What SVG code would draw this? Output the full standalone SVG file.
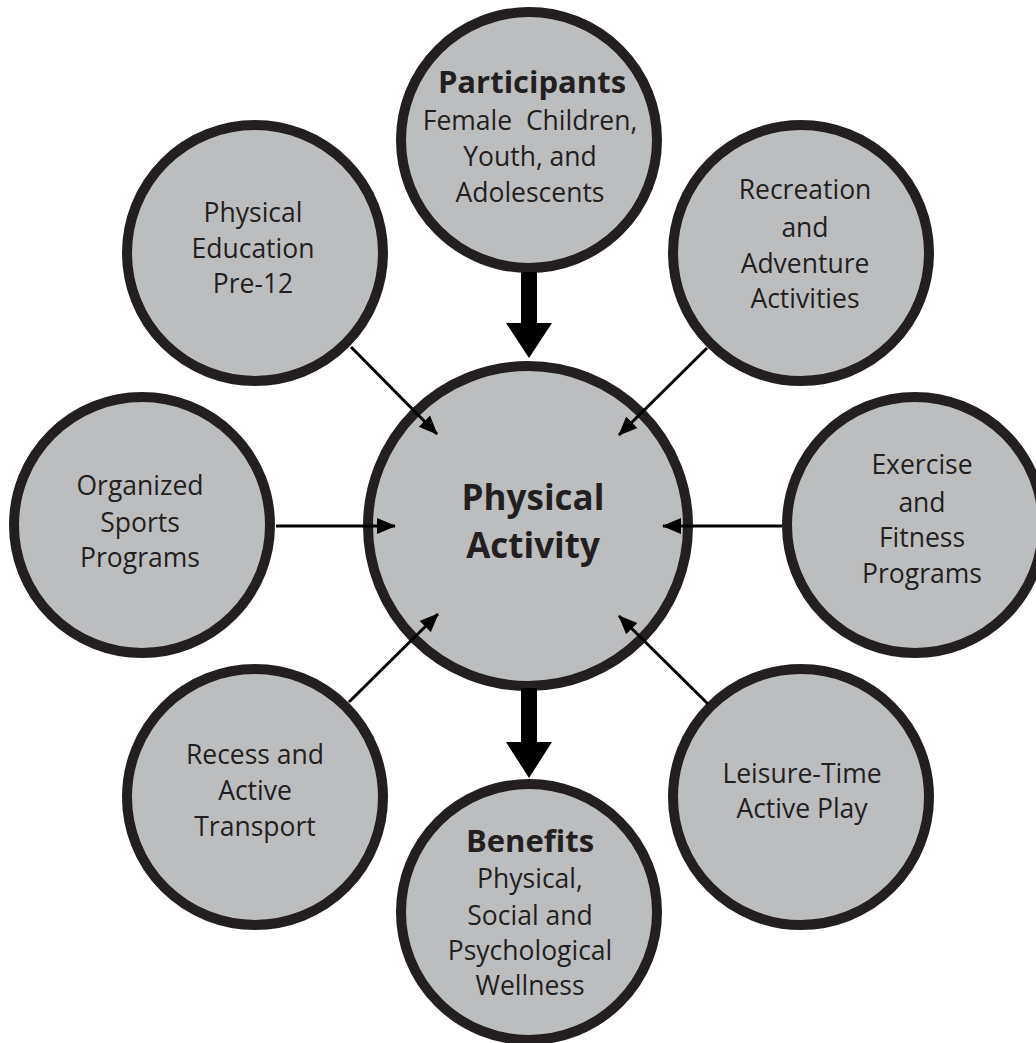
<svg xmlns="http://www.w3.org/2000/svg" width="1036" height="1043" viewBox="0 0 1036 1043">
<defs>
<style>
.node{fill:#bcbdbf;stroke:#231f20;stroke-width:10}
.t{font-family:"Open Sans","Noto Sans",sans-serif;font-size:26.5px;fill:#231f20;text-anchor:middle}
.b{font-weight:bold;font-size:31px}
.big{font-weight:bold;font-size:35px}
.conn{stroke:#000;stroke-width:3;fill:none;marker-end:url(#ah)}
</style>
<marker id="ah" markerUnits="userSpaceOnUse" markerWidth="20" markerHeight="18" viewBox="0 0 20 18" refX="18" refY="9" orient="auto">
<path d="M0,1 L19,9 L0,17 Z" fill="#000"/>
</marker>
</defs>
<rect width="1036" height="1043" fill="#fff"/>
<g id="center">
<circle class="node" cx="528" cy="526" r="160"/>
<text class="t big" x="533" y="510">Physical</text>
<text class="t big" x="533" y="558">Activity</text>
</g>
<g id="participants">
<circle class="node" cx="529" cy="140" r="128"/>
<text class="t b" x="532" y="93">Participants</text>
<text class="t" x="530" y="130">Female&#160; Children,</text>
<text class="t" x="530" y="166">Youth, and</text>
<text class="t" x="530" y="202">Adolescents</text>
</g>
<g id="benefits">
<circle class="node" cx="529" cy="912" r="128"/>
<text class="t b" x="530" y="852">Benefits</text>
<text class="t" x="530" y="888">Physical,</text>
<text class="t" x="530" y="925">Social and</text>
<text class="t" x="530" y="960">Psychological</text>
<text class="t" x="530" y="995">Wellness</text>
</g>
<g id="physical-education">
<circle class="node" cx="255" cy="253" r="128"/>
<text class="t" x="253" y="222">Physical</text>
<text class="t" x="253" y="258">Education</text>
<text class="t" x="253" y="293">Pre-12</text>
</g>
<g id="recreation">
<circle class="node" cx="801" cy="253" r="128"/>
<text class="t" x="805" y="199">Recreation</text>
<text class="t" x="805" y="237">and</text>
<text class="t" x="805" y="273">Adventure</text>
<text class="t" x="805" y="308">Activities</text>
</g>
<g id="organized-sports">
<circle class="node" cx="142" cy="525" r="128"/>
<text class="t" x="140" y="495">Organized</text>
<text class="t" x="140" y="532">Sports</text>
<text class="t" x="140" y="567">Programs</text>
</g>
<g id="exercise">
<circle class="node" cx="915" cy="525" r="128"/>
<text class="t" x="922" y="474">Exercise</text>
<text class="t" x="922" y="512">and</text>
<text class="t" x="922" y="547">Fitness</text>
<text class="t" x="922" y="583">Programs</text>
</g>
<g id="recess">
<circle class="node" cx="255" cy="797" r="128"/>
<text class="t" x="255" y="764">Recess and</text>
<text class="t" x="255" y="800">Active</text>
<text class="t" x="255" y="836">Transport</text>
</g>
<g id="leisure">
<circle class="node" cx="801" cy="797" r="128"/>
<text class="t" x="802" y="783">Leisure-Time</text>
<text class="t" x="802" y="818">Active Play</text>
</g>
<g id="connectors">
<line class="conn" x1="351" y1="347" x2="437" y2="434"/>
<line class="conn" x1="707" y1="348" x2="619" y2="435"/>
<line class="conn" x1="276" y1="526" x2="395" y2="526"/>
<line class="conn" x1="782" y1="526" x2="663" y2="526"/>
<line class="conn" x1="349" y1="702" x2="438" y2="614"/>
<line class="conn" x1="708" y1="704" x2="619" y2="616"/>
<path d="M521,272 L537,272 L537,323 L552,323 L529,358 L506,323 L521,323 Z" fill="#000"/>
<path d="M521,688 L537,688 L537,742 L552,742 L529,778 L506,742 L521,742 Z" fill="#000"/>
</g>
</svg>
